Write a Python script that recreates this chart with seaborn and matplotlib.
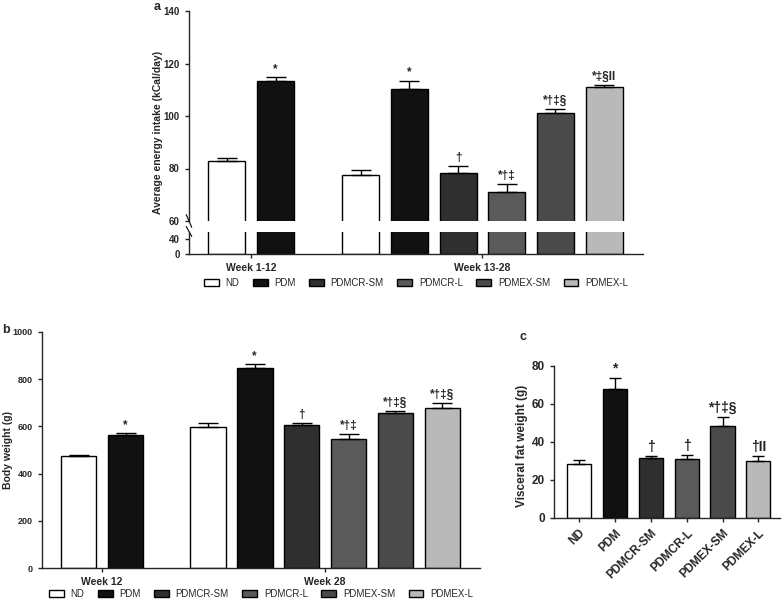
import matplotlib
matplotlib.use('Agg')
import matplotlib.pyplot as plt
from matplotlib.patches import Patch
import numpy as np
import pandas as pd
import seaborn as sns

# groups and fills
groups = ['ND', 'PDM', 'PDMCR-SM', 'PDMCR-L', 'PDMEX-SM', 'PDMEX-L']
colors = ['#ffffff', '#111111', '#2f2f2f', '#5a5a5a', '#4a4a4a', '#b9b9b9']

# bars per period in panels a and b
first_groups = ['ND', 'PDM']
second_groups = groups

# panel a - average energy intake
periods_a = ['Week 1-12', 'Week 13-28']
intake_mean = [83.0, 113.3, 77.5, 110.4, 78.2, 71.0, 101.0, 110.9]
intake_sem = [1.0, 1.6, 1.8, 3.1, 2.8, 3.0, 1.5, 1.0]
intake_marks = ['', '*', '', '*', '†', '*†‡', '*†‡§', '*‡§II']

# panel b - body weight
periods_b = ['Week 12', 'Week 28']
weight_mean = [473, 564, 596, 846, 604, 548, 656, 676]
weight_sem = [7, 9, 18, 17, 10, 19, 11, 24]
weight_marks = ['', '*', '', '*', '†', '*†‡', '*†‡§', '*†‡§']

# panel c - visceral fat weight
fat_mean = [28.6, 67.7, 31.7, 31.0, 48.4, 30.0]
fat_sem = [1.9, 6.0, 1.1, 2.3, 4.6, 2.5]
fat_marks = ['', '*', '†', '†', '*†‡§', '†II']

sns.set_style('ticks')
plt.rcParams['font.family'] = ['Liberation Sans', 'DejaVu Sans']
plt.rcParams['font.weight'] = 'bold'
plt.rcParams['axes.linewidth'] = 1.0
plt.rcParams['xtick.major.width'] = 1.0
plt.rcParams['ytick.major.width'] = 1.0
plt.rcParams['xtick.major.size'] = 3
plt.rcParams['ytick.major.size'] = 3

pal = dict(zip(groups, colors))
gap = 1.75
xpos = np.r_[np.arange(len(first_groups)), np.arange(len(second_groups)) + len(first_groups) + gap - 1]
names_ab = first_groups + second_groups
period_ticks = [np.mean(xpos[:len(first_groups)]), np.mean(xpos[len(first_groups):])]


def draw_bars(ax, x, means, sems, names, width, capsize, native=True):
    df = pd.DataFrame({'x': x, 'y': means, 'group': names})
    sns.barplot(data=df, x='x', y='y', hue='group', hue_order=groups, palette=pal,
                native_scale=native, width=width, dodge=False, edgecolor='black',
                linewidth=1, legend=False, errorbar=None, ax=ax, zorder=2)
    ax.errorbar(x, means, yerr=[np.zeros(len(means)), sems], fmt='none', ecolor='black',
                elinewidth=1, capsize=capsize, capthick=1, zorder=3)
    ax.set_xlabel('')
    ax.set_ylabel('')
    for side in ['top', 'right']:
        ax.spines[side].set_visible(False)


def add_marks(ax, x, means, sems, marks, size):
    for xi, m, s, t in zip(x, means, sems, marks):
        if t:
            ax.annotate(t, (xi, m + s), xytext=(0, 1.5), textcoords='offset points',
                        ha='center', va='bottom', fontsize=size, fontweight='bold')


def group_legend(ax, y):
    ax.legend(handles=[Patch(facecolor=c, edgecolor='black', label=g) for g, c in zip(groups, colors)],
              loc='center', bbox_to_anchor=(0.5, y), ncol=6, frameon=False,
              prop={'size': 7, 'weight': 'normal'}, handlelength=1.5, handleheight=0.7,
              columnspacing=1.4, handletextpad=0.7, borderpad=0.2)


fig = plt.figure(figsize=(7.84, 5.99), dpi=100)
W, H = 784, 599


def px_axes(x0, y0, x1, y1):
    return fig.add_axes([x0 / W, 1 - y1 / H, (x1 - x0) / W, (y1 - y0) / H])


# ---------------- panel a (broken axis)
ax_up = px_axes(189, 11, 643, 221)
ax_lo = px_axes(189, 231.5, 643, 254)
xlim_ab = (-0.78, xpos[-1] + 0.8)
for ax in [ax_up, ax_lo]:
    draw_bars(ax, xpos, intake_mean, intake_sem, names_ab, 0.76, 7)
    ax.set_xlim(*xlim_ab)
ax_up.set_ylim(60, 140)
ax_up.set_yticks([60, 80, 100, 120, 140])
ax_up.spines['bottom'].set_visible(False)
ax_up.tick_params(axis='x', bottom=False, labelbottom=False)
ax_up.tick_params(axis='y', labelsize=7)
ax_lo.set_ylim(0, 60)
ax_lo.set_yticks([0, 40])
ax_lo.tick_params(axis='y', labelsize=7)
ax_lo.set_xticks(period_ticks)
ax_lo.set_xticklabels(periods_a, fontsize=7.5, fontweight='bold')
add_marks(ax_up, xpos, intake_mean, intake_sem, intake_marks, 8.5)

# break marks on the y axis
ax_up.plot([-0.006, 0.006], [0.03, -0.03], transform=ax_up.transAxes,
           color='black', lw=0.8, clip_on=False)
ax_lo.plot([-0.006, 0.006], [1.22, 0.78], transform=ax_lo.transAxes,
           color='black', lw=0.8, clip_on=False)

group_legend(ax_lo, (254 - 283) / 22.5)

fig.text(158 / W, 1 - 132 / H, 'Average energy intake (kCal/day)', rotation=90,
         ha='center', va='center', fontsize=7.5, fontweight='bold')
fig.text(157 / W, 1 - 7 / H, 'a', ha='center', va='center', fontsize=9, fontweight='bold')

# ---------------- panel b
ax_b = px_axes(42, 332, 480, 568)
draw_bars(ax_b, xpos, weight_mean, weight_sem, names_ab, 0.76, 7)
ax_b.set_xlim(*xlim_ab)
ax_b.set_ylim(0, 1000)
ax_b.set_yticks(range(0, 1001, 200))
ax_b.tick_params(axis='y', labelsize=6.5)
ax_b.set_xticks(period_ticks)
ax_b.set_xticklabels(periods_b, fontsize=7.5, fontweight='bold')
add_marks(ax_b, xpos, weight_mean, weight_sem, weight_marks, 8.5)
group_legend(ax_b, (568 - 594) / 236)
fig.text(8 / W, 1 - 450 / H, 'Body weight (g)', rotation=90,
         ha='center', va='center', fontsize=7.5, fontweight='bold')
fig.text(6 / W, 1 - 330 / H, 'b', ha='center', va='center', fontsize=9, fontweight='bold')

# ---------------- panel c
ax_c = px_axes(554, 366, 780, 518)
draw_bars(ax_c, groups, fat_mean, fat_sem, groups, 0.67, 4, native=False)
ax_c.set_xlim(-0.69, 5.6)
ax_c.set_ylim(0, 80)
ax_c.set_yticks(range(0, 81, 20))
ax_c.tick_params(axis='y', labelsize=8.5)
ax_c.set_xticks(range(len(groups)))
ax_c.set_xticklabels(groups, rotation=45, ha='right', rotation_mode='anchor',
                     fontsize=8.5, fontweight='bold')
add_marks(ax_c, range(len(groups)), fat_mean, fat_sem, fat_marks, 10)
fig.text(522 / W, 1 - 446 / H, 'Visceral fat weight (g)', rotation=90,
         ha='center', va='center', fontsize=8.5, fontweight='bold')
fig.text(523 / W, 1 - 337 / H, 'c', ha='center', va='center', fontsize=9, fontweight='bold')

fig.savefig('out.png', dpi=100)
